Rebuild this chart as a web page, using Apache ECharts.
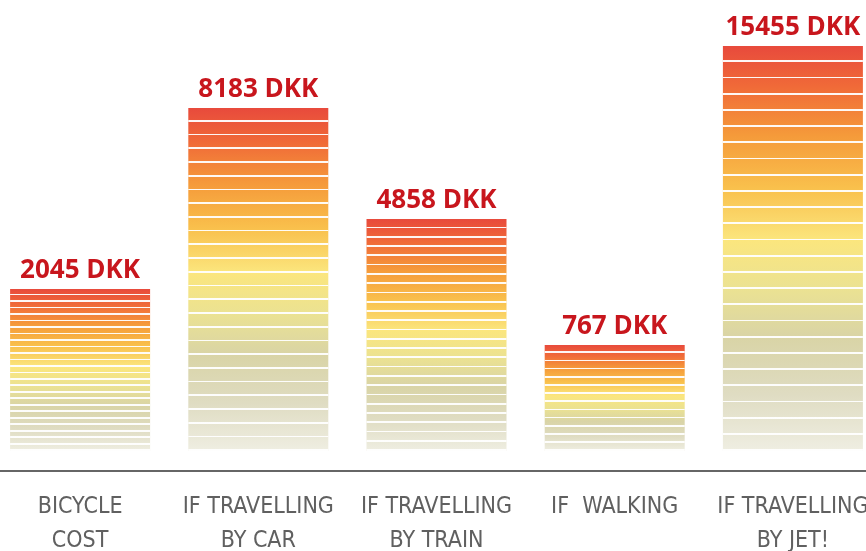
<!DOCTYPE html>
<html>
<head>
<meta charset="utf-8">
<script src="https://cdn.jsdelivr.net/npm/echarts@6/dist/echarts.min.js"></script>
<style>
  html, body { margin: 0; padding: 0; background: #ffffff; }
  #chart { width: 866px; height: 551px; }
</style>
</head>
<body>
<div id="chart"></div>
<script>
// ---- data ----
var categories = ['BICYCLE\nCOST', 'IF TRAVELLING\nBY CAR', 'IF TRAVELLING\nBY TRAIN', 'IF  WALKING', 'IF TRAVELLING\nBY JET!'];
var costsDKK = [2045, 8183, 4858, 767, 15455];
// drawn bar heights (the infographic is not to scale), in visual units
var barHeights = [162, 343, 232, 106, 405];
var stripeCounts = [25, 25, 25, 13, 25];

// ---- styling ----
var baseGradient = [
  { offset: 0.00, color: '#e84a3c' },
  { offset: 0.10, color: '#f06a38' },
  { offset: 0.22, color: '#f59a3a' },
  { offset: 0.35, color: '#f9c04c' },
  { offset: 0.48, color: '#fbe67e' },
  { offset: 0.60, color: '#ebe292' },
  { offset: 0.72, color: '#d9d4a6' },
  { offset: 0.86, color: '#dfdcc2' },
  { offset: 1.00, color: '#efeee2' }
];
var yMax = 451;

function stripeGradient(n, h) {
  var t = 1.7 / h; // ~1.7px white lines
  var stops = [{ offset: 0, color: 'rgba(255,255,255,0)' }];
  for (var i = 1; i <= n; i++) {
    var p = i / n;
    var a = Math.max(0, p - t), b = Math.min(1, p);
    stops.push({ offset: a, color: 'rgba(255,255,255,0)' });
    stops.push({ offset: a, color: 'rgba(255,255,255,0.95)' });
    stops.push({ offset: b, color: 'rgba(255,255,255,0.95)' });
    if (b < 1) stops.push({ offset: b, color: 'rgba(255,255,255,0)' });
  }
  return new echarts.graphic.LinearGradient(0, 0, 0, 1, stops);
}

var baseData = barHeights.map(function (v, i) {
  return {
    value: v,
    itemStyle: { color: new echarts.graphic.LinearGradient(0, 0, 0, 1, baseGradient) }
  };
});
var stripeData = barHeights.map(function (v, i) {
  return { value: v, itemStyle: { color: stripeGradient(stripeCounts[i], v) } };
});

var chart = echarts.init(document.getElementById('chart'));
chart.setOption({
  animation: false,
  backgroundColor: '#ffffff',
  grid: { left: -9, right: -16, top: 0, bottom: 100, containLabel: false, outerBoundsMode: 'none' },
  xAxis: {
    type: 'category',
    data: categories,
    offset: 20,
    axisLine: { show: true, onZero: false, lineStyle: { color: '#333333', width: 1.5 } },
    axisTick: { show: false },
    axisLabel: {
      interval: 0,
      margin: 19,
      color: '#606060',
      fontFamily: '"DejaVu Sans Condensed", sans-serif',
      fontSize: 23,
      lineHeight: 34
    }
  },
  yAxis: {
    type: 'value',
    min: 0,
    max: yMax,
    show: false,
    splitLine: { show: false }
  },
  series: [
    {
      type: 'bar',
      data: baseData,
      barWidth: 140,
      label: {
        show: true,
        position: 'top',
        distance: 5,
        formatter: function (p) { return costsDKK[p.dataIndex] + ' DKK'; },
        color: '#c8161d',
        fontFamily: '"Open Sans", sans-serif',
        fontWeight: 'bold',
        fontSize: 26
      }
    },
    {
      type: 'bar',
      data: stripeData,
      barWidth: 140,
      barGap: '-100%',
      silent: true
    }
  ]
});
</script>
</body>
</html>
